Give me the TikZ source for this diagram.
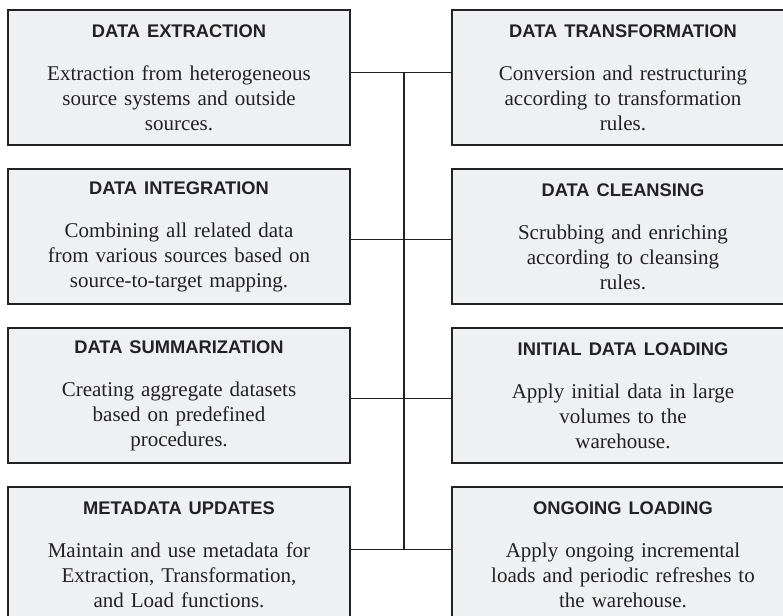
\documentclass[tikz,border=0pt]{standalone}
\usepackage{fontspec}
\setmainfont{Liberation Serif}
\setsansfont{Liberation Sans}
\usetikzlibrary{positioning, calc}
\usepackage{xcolor}
\definecolor{boxfill}{RGB}{239,240,242}
\definecolor{inkgray}{RGB}{35,33,35}
\newcommand{\headline}[1]{{\sffamily\bfseries\fontsize{18.3pt}{21pt}\selectfont #1}\\[18pt]}

\begin{document}
\begin{tikzpicture}[
      node distance=24pt and 102pt,
      box/.style={rectangle, draw=inkgray, line width=1.5pt, fill=boxfill,
                  text=inkgray, align=center, minimum width=342pt,
                  minimum height=135pt, text width=338pt, inner sep=0pt,
                  outer sep=0pt, font=\fontsize{21pt}{25pt}\selectfont},
      link/.style={draw=inkgray, line width=1.4pt}
    ]
    \clip (0,0) rectangle (783pt,-615pt);
    \fill[white] (0,0) rectangle (783pt,-615pt);

    % left column
    \node[box, anchor=north west] (extract) at (8pt,-10pt)
      {\headline{DATA EXTRACTION}Extraction from heterogeneous\\ source systems and outside\\ sources.};
    \node[box, below=of extract] (integrate)
      {\headline{DATA INTEGRATION}Combining all related data\\ from various sources based on\\ source-to-target mapping.};
    \node[box, below=of integrate] (summary)
      {\headline{DATA SUMMARIZATION}Creating aggregate datasets\\ based on predefined\\ procedures.};
    \node[box, below=of summary] (metadata)
      {\headline{METADATA UPDATES}Maintain and use metadata for\\ Extraction, Transformation,\\ and Load functions.};

    % right column
    \node[box, right=of extract] (transform)
      {\headline{DATA TRANSFORMATION}Conversion and restructuring\\ according to transformation\\ rules.};
    \node[box, right=of integrate] (cleanse)
      {\headline{DATA CLEANSING}Scrubbing and enriching\\ according to cleansing\\ rules.};
    \node[box, right=of summary] (initload)
      {\headline{INITIAL DATA LOADING}Apply initial data in large\\ volumes to the\hspace*{48pt}\\ warehouse.};
    \node[box, right=of metadata] (ongoing)
      {\headline{ONGOING LOADING}Apply ongoing incremental\\ loads and periodic refreshes to\\ the warehouse.};

    % connectors
    \draw[link] ([yshift=5pt]extract.east) -- ([yshift=5pt]transform.west);
    \draw[link] ([yshift=-3pt]integrate.east) -- ([yshift=-3pt]cleanse.west);
    \draw[link] ([yshift=-3pt]summary.east) -- ([yshift=-3pt]initload.west);
    \draw[link] ([yshift=5pt]metadata.east) -- ([yshift=5pt]ongoing.west);
    \coordinate (spinetop) at ($([yshift=5pt]extract.east)!0.53!([yshift=5pt]transform.west)$);
    \coordinate (spinebot) at ($([yshift=5pt]metadata.east)!0.53!([yshift=5pt]ongoing.west)$);
    \draw[link] (spinetop) -- (spinebot);
  \end{tikzpicture}
\end{document}
